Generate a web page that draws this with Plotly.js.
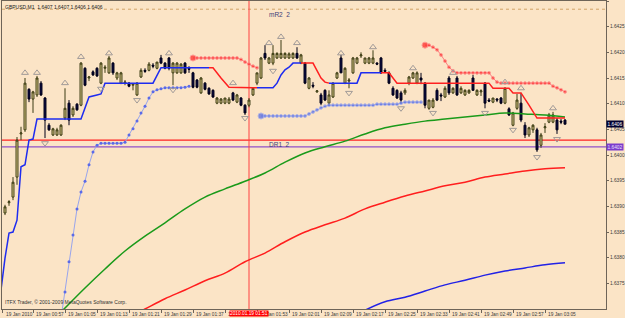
<!DOCTYPE html>
<html>
<head>
<meta charset="utf-8">
<script src="https://cdn.plot.ly/plotly-3.0.1.min.js"></script>
<style>html,body{margin:0;padding:0;background:#FBE4C6;}#chart{width:625px;height:318px;}</style>
</head>
<body>
<div id="chart"></div>
<script>
// ---- Candles (GBPUSD, M1, 19 Jan 2010, 00:50 .. 03:10) ----
const opens = [1.63887,1.63907,1.63918,1.63957,1.64041,1.64049,1.64128,1.64109,1.64117,1.64140,
1.64111,1.64058,1.64039,1.64039,1.64039,1.64072,1.64101,1.64078,1.64099,1.64097,
1.64169,1.64150,1.64162,1.64169,1.64140,1.64169,1.64160,1.64179,1.64150,1.64140,
1.64140,1.64140,1.64136,1.64117,1.64152,1.64165,1.64165,1.64175,1.64169,1.64189,
1.64179,1.64189,1.64160,1.64160,1.64160,1.64179,1.64169,1.64160,1.64146,1.64121,
1.64140,1.64130,1.64126,1.64101,1.64101,1.64101,1.64101,1.64121,1.64103,1.64111,
1.64097,1.64097,1.64117,1.64140,1.64150,1.64198,1.64179,1.64179,1.64189,1.64189,
1.64189,1.64189,1.64189,1.64198,1.64179,1.64179,1.64130,1.64136,1.64123,1.64117,
1.64126,1.64101,1.64113,1.64150,1.64189,1.64140,1.64144,1.64160,1.64179,1.64193,
1.64179,1.64179,1.64179,1.64179,1.64189,1.64165,1.64160,1.64130,1.64126,1.64121,
1.64121,1.64140,1.64150,1.64140,1.64150,1.64140,1.64091,1.64093,1.64126,1.64117,
1.64113,1.64150,1.64121,1.64150,1.64121,1.64117,1.64121,1.64150,1.64117,1.64123,
1.64140,1.64107,1.64103,1.64109,1.64111,1.64101,1.64090,1.64058,1.64091,1.64101,
1.64058,1.64039,1.64049,1.64049,1.64019,1.64053,1.64064,1.64064,1.64068,1.64066,
1.64068];
const highs = [1.63903,1.63912,1.63957,1.64035,1.64055,1.64150,1.64130,1.64125,1.64154,1.64144,
1.64113,1.64062,1.64053,1.64053,1.64060,1.64130,1.64107,1.64095,1.64101,1.64181,
1.64171,1.64154,1.64165,1.64171,1.64181,1.64175,1.64193,1.64181,1.64162,1.64162,
1.64146,1.64142,1.64140,1.64142,1.64169,1.64169,1.64181,1.64179,1.64181,1.64195,
1.64181,1.64191,1.64181,1.64181,1.64179,1.64181,1.64173,1.64162,1.64148,1.64152,
1.64142,1.64132,1.64128,1.64113,1.64111,1.64111,1.64113,1.64123,1.64119,1.64113,
1.64099,1.64111,1.64130,1.64160,1.64191,1.64214,1.64191,1.64214,1.64200,1.64224,
1.64200,1.64200,1.64200,1.64210,1.64197,1.64181,1.64152,1.64142,1.64126,1.64121,
1.64128,1.64126,1.64142,1.64162,1.64195,1.64171,1.64150,1.64191,1.64191,1.64200,
1.64189,1.64191,1.64204,1.64181,1.64191,1.64169,1.64163,1.64134,1.64128,1.64125,
1.64130,1.64154,1.64162,1.64163,1.64160,1.64142,1.64107,1.64111,1.64130,1.64121,
1.64134,1.64154,1.64132,1.64154,1.64134,1.64128,1.64128,1.64156,1.64128,1.64128,
1.64142,1.64111,1.64111,1.64111,1.64113,1.64132,1.64093,1.64084,1.64119,1.64121,
1.64064,1.64055,1.64060,1.64053,1.64043,1.64062,1.64082,1.64084,1.64072,1.64070,
1.64070];
const lows = [1.63883,1.63901,1.63912,1.63942,1.64029,1.64045,1.64103,1.64082,1.64113,1.64115,
1.64033,1.64047,1.64037,1.64037,1.64037,1.64068,1.64058,1.64074,1.64086,1.64095,
1.64134,1.64144,1.64154,1.64152,1.64138,1.64160,1.64158,1.64156,1.64146,1.64138,
1.64136,1.64132,1.64126,1.64115,1.64150,1.64160,1.64163,1.64169,1.64167,1.64177,
1.64167,1.64165,1.64136,1.64158,1.64158,1.64158,1.64160,1.64130,1.64130,1.64119,
1.64126,1.64117,1.64111,1.64099,1.64099,1.64099,1.64099,1.64105,1.64101,1.64095,
1.64078,1.64093,1.64115,1.64136,1.64148,1.64185,1.64177,1.64175,1.64187,1.64187,
1.64187,1.64187,1.64187,1.64187,1.64177,1.64138,1.64128,1.64130,1.64121,1.64097,
1.64105,1.64097,1.64111,1.64148,1.64160,1.64138,1.64130,1.64158,1.64177,1.64189,
1.64177,1.64177,1.64177,1.64175,1.64158,1.64160,1.64138,1.64115,1.64109,1.64101,
1.64117,1.64136,1.64148,1.64138,1.64138,1.64091,1.64088,1.64091,1.64105,1.64105,
1.64111,1.64117,1.64119,1.64115,1.64119,1.64115,1.64119,1.64125,1.64115,1.64115,
1.64091,1.64103,1.64101,1.64103,1.64099,1.64099,1.64076,1.64056,1.64088,1.64064,
1.64033,1.64035,1.64043,1.64006,1.64014,1.64043,1.64062,1.64062,1.64041,1.64060,
1.64060];
const closes = [1.63899,1.63909,1.63947,1.64029,1.64043,1.64140,1.64109,1.64123,1.64150,1.64117,
1.64068,1.64049,1.64051,1.64049,1.64058,1.64091,1.64068,1.64091,1.64088,1.64179,
1.64136,1.64152,1.64156,1.64154,1.64179,1.64171,1.64189,1.64160,1.64160,1.64160,
1.64142,1.64134,1.64138,1.64140,1.64165,1.64163,1.64177,1.64173,1.64181,1.64179,
1.64169,1.64169,1.64179,1.64179,1.64177,1.64160,1.64167,1.64132,1.64132,1.64150,
1.64128,1.64119,1.64113,1.64111,1.64109,1.64111,1.64109,1.64107,1.64117,1.64097,
1.64082,1.64107,1.64130,1.64160,1.64189,1.64189,1.64189,1.64198,1.64198,1.64198,
1.64198,1.64197,1.64198,1.64189,1.64195,1.64140,1.64150,1.64134,1.64125,1.64101,
1.64107,1.64117,1.64140,1.64160,1.64160,1.64169,1.64146,1.64189,1.64189,1.64195,
1.64189,1.64189,1.64189,1.64177,1.64160,1.64163,1.64140,1.64117,1.64111,1.64107,
1.64126,1.64152,1.64160,1.64160,1.64146,1.64097,1.64107,1.64107,1.64107,1.64115,
1.64130,1.64121,1.64130,1.64117,1.64130,1.64126,1.64126,1.64126,1.64126,1.64125,
1.64101,1.64105,1.64111,1.64107,1.64101,1.64130,1.64078,1.64082,1.64107,1.64068,
1.64039,1.64053,1.64058,1.64010,1.64039,1.64055,1.64078,1.64078,1.64049,1.64064,
1.64060];

// ---- Moving averages (sampled every 5 bars) ----
const maGreenK = [14,20,25,30,35,40,45,50,55,60,65,70,75,80,85,90,95,100,105,110,115,120,125,130,135,140];
const maGreen  = [1.63694,1.63741,1.63778,1.63813,1.63842,1.63868,1.63895,1.63918,1.63934,1.63949,1.63965,1.63986,1.64004,1.64016,1.64027,1.64041,1.64053,1.64060,1.64066,1.64070,1.64074,1.64078,1.64082,1.64080,1.64078,1.64074];
const maRedK = [33,35,40,45,50,55,60,65,70,75,80,85,90,95,100,105,110,115,120,125,130,135,140];
const maRed  = [1.63692,1.63700,1.63720,1.63737,1.63755,1.63770,1.63792,1.63809,1.63831,1.63850,1.63864,1.63877,1.63895,1.63908,1.63920,1.63930,1.63940,1.63947,1.63957,1.63963,1.63969,1.63973,1.63975];
const maBlueK = [89,95,100,105,110,115,120,125,130,135,140];
const maBlue  = [1.63694,1.63714,1.63723,1.63735,1.63747,1.63756,1.63766,1.63774,1.63780,1.63786,1.63790];

// ---- Trailing step line (blue = up, red = down) ----
const stepUpK = [-1,0,1,2,3,4,5,6,7,8,19,21,23,24,25,37,39,51,null,63,67,68,69,70,71,72,74,null,81,88,89,94];
const stepUpP = [1.63737,1.63799,1.63848,1.63850,1.63873,1.63977,1.63981,1.64029,1.64031,1.64070,1.64070,1.64113,1.64117,1.64119,1.64140,1.64140,1.64170,1.64170,null,
1.64131,1.64131,1.64140,1.64156,1.64166,1.64171,1.64179,1.64179,null,1.64140,1.64140,1.64160,1.64160];
const stepDnK = [51,52,54,56,62,63,null,74,77,79,80,81,null,94,96,98,121,122,126,127,129,131,133,140];
const stepDnP = [1.64170,1.64170,1.64150,1.64132,1.64131,1.64131,null,1.64179,1.64179,1.64150,1.64142,1.64140,null,
1.64160,1.64160,1.64140,1.64140,1.64130,1.64130,1.64121,1.64121,1.64097,1.64072,1.64072];

// ---- Dotted stop series ----
const dotBlue1K = [14,15,16,17,18,19,20,21,22,23,24,25,26,27,28,29,30,31,32,33,34,35,36,37,38,39,40,41,42,43,44,45,46];
const dotBlue1P = [1.63682,1.63733,1.63792,1.63844,1.63895,1.63928,1.63949,1.63981,1.64006,1.64019,1.64023,1.64023,1.64023,1.64023,1.64023,1.64023,1.64025,1.64039,1.64051,1.64066,1.64082,1.64095,1.64111,1.64123,1.64127,1.64129,1.64131,1.64131,1.64131,1.64131,1.64131,1.64132,1.64134];
const dotRed1K = [47,48,49,50,51,52,53,54,55,56,57,58,59,60,61,62,63];
const dotRed1P = [1.64189,1.64189,1.64189,1.64189,1.64189,1.64189,1.64189,1.64189,1.64189,1.64189,1.64189,1.64189,1.64186,1.64181,1.64177,1.64173,1.64170];
const dotBlue2K = [64,65,66,67,68,69,70,71,72,73,74,75,76,77,78,79,80,81,82,83,84,85,86,87,88,89,90,91,92,93,94,95,96,97,98,99,100,101,102,103,104];
const dotBlue2P = [1.64076,1.64076,1.64076,1.64076,1.64076,1.64076,1.64076,1.64076,1.64076,1.64076,1.64076,1.64076,1.64080,1.64084,1.64088,1.64092,1.64095,
1.64097,1.64097,1.64097,1.64097,1.64097,1.64097,1.64097,1.64097,1.64097,1.64097,1.64097,1.64097,1.64099,1.64099,1.64099,1.64099,1.64099,1.64099,1.64101,1.64103,1.64103,1.64103,1.64103,1.64103];
const dotRed2K = [105,106,107,108,109,110,111,112,113,114,115,116,117,118,119,120,121,122,123,124,125,126,127,128,129,130,131,132,133,134,135,136,137,138,139,140];
const dotRed2P = [1.64214,1.64214,1.64210,1.64205,1.64195,1.64183,1.64171,1.64164,1.64160,1.64160,1.64160,1.64160,1.64160,1.64160,1.64160,1.64160,1.64160,1.64150,1.64142,
1.64140,1.64140,1.64140,1.64140,1.64140,1.64140,1.64140,1.64140,1.64140,1.64140,1.64140,1.64140,1.64140,1.64134,1.64131,1.64127,1.64123];

// ---- Fractals ----
const fracUpK = [5,8,15,19,26,41,57,66,69,73,84,92,102,112,125,129,137];
const fracUpP = [1.64160,1.64160,1.64140,1.64191,1.64198,1.64198,1.64140,1.64218,1.64230,1.64218,1.64198,1.64210,1.64169,1.64160,1.64142,1.64130,1.64091];
const fracDnK = [10,24,33,42,60,67,86,99,107,120,127,133,138];
const fracDnP = [1.64023,1.64129,1.64107,1.64127,1.64072,1.64164,1.64121,1.64091,1.64082,1.64082,1.64049,1.63996,1.64031];

// ---- Levels / labels ----
const levelDR1 = 1.64029, levelPivot = 1.64016, levelMR2 = 1.64284;
const lastPrice = 1.6406, lastPriceText = "1.6406", pivotText = "1.6402";
const cursorK = 61, cursorText = "2010.01.19 01:51";
const titleText = "GBPUSD,M1  1.6407 1.6407 1.6406 1.6406";
const copyText = "ITFX Trader, © 2001-2009 MetaQuotes Software Corp.";
const yTickVals = [1.6375,1.6380,1.6385,1.6390,1.6395,1.6400,1.6405,1.6410,1.6415,1.6420,1.6425,1.6430];
const yTickText = ["1.6375","1.6380","1.6385","1.6390","1.6395","1.6400","1.6405","1.6410","1.6415","1.6420","1.6425","1.6430"];
const xTickK = [-0.6,7,15,23,31,39,47,55,63,71,79,87,95,103,111,119,127,135];
const xTickText = ["19 Jan 2010","19 Jan 00:57","19 Jan 01:05","19 Jan 01:13","19 Jan 01:21","19 Jan 01:29","19 Jan 01:37","19 Jan 01:45","19 Jan 01:53","19 Jan 02:01","19 Jan 02:09","19 Jan 02:17","19 Jan 02:25","19 Jan 02:33","19 Jan 02:41","19 Jan 02:49","19 Jan 02:57","19 Jan 03:05"];

const FONT = "Liberation Sans, Arial, sans-serif";
const SMALL = 4.8;
const bars = opens.map((_, i) => i);
const sizes = (arr, big) => arr.map((_, i) => i === 0 && big ? 6 : 3);

const traces = [
  {type:'candlestick', x:bars, open:opens, high:highs, low:lows, close:closes,
   increasing:{line:{color:'#3c3c14', width:1}, fillcolor:'#E2D08C'},
   decreasing:{line:{color:'#000018', width:1}, fillcolor:'#0A0A48'},
   whiskerwidth:0, hoverinfo:'skip', showlegend:false},
  {type:'scatter', mode:'lines', x:maGreenK, y:maGreen, line:{color:'#1A9A1A', width:1.5, shape:'spline'}, hoverinfo:'skip'},
  {type:'scatter', mode:'lines', x:maRedK, y:maRed, line:{color:'#FF1E1E', width:1.5, shape:'spline'}, hoverinfo:'skip'},
  {type:'scatter', mode:'lines', x:maBlueK, y:maBlue, line:{color:'#2222E6', width:1.5, shape:'spline'}, hoverinfo:'skip'},
  {type:'scatter', mode:'lines', x:stepUpK, y:stepUpP, line:{color:'#1E2CF0', width:1.5}, connectgaps:false, hoverinfo:'skip'},
  {type:'scatter', mode:'lines', x:stepDnK, y:stepDnP, line:{color:'#FF2020', width:1.5}, connectgaps:false, hoverinfo:'skip'},
  {type:'scatter', mode:'lines+markers', x:dotBlue1K, y:dotBlue1P, line:{color:'#98A4EC', width:1}, marker:{color:'#5A6AE8', size:3}, hoverinfo:'skip'},
  {type:'scatter', mode:'lines+markers', x:dotRed1K, y:dotRed1P, line:{color:'#FF8080', width:1}, marker:{color:'#FF2020', size:sizes(dotRed1K,true)}, hoverinfo:'skip'},
  {type:'scatter', mode:'lines+markers', x:dotBlue2K, y:dotBlue2P, line:{color:'#98A4EC', width:1}, marker:{color:'#4E66E4', size:sizes(dotBlue2K,true)}, hoverinfo:'skip'},
  {type:'scatter', mode:'lines+markers', x:dotRed2K, y:dotRed2P, line:{color:'#FF8080', width:1}, marker:{color:'#FF2020', size:sizes(dotRed2K,true)}, hoverinfo:'skip'},
  {type:'scatter', mode:'markers', x:fracUpK, y:fracUpP, marker:{symbol:'triangle-up-open', size:6, color:'#A09A98', line:{width:1}}, hoverinfo:'skip'},
  {type:'scatter', mode:'markers', x:fracDnK, y:fracDnP, marker:{symbol:'triangle-down-open', size:6, color:'#A09A98', line:{width:1}}, hoverinfo:'skip'}
];

const annotations = xTickK.map((k, i) => ({
  x:k, y:0, xref:'x', yref:'paper', xanchor:'left', yanchor:'top', yshift:-1, xshift:1,
  text:xTickText[i], showarrow:false, font:{family:FONT, size:SMALL, color:'#3a3a3a'}
}));
annotations.push(
  {x:cursorK, y:0, xref:'x', yref:'paper', xanchor:'center', yanchor:'top', yshift:-1,
   text:cursorText, showarrow:false, bgcolor:'#FF0000', borderpad:0, font:{family:FONT, size:SMALL, color:'#FFFFFF'}},
  {x:1, y:lastPrice, xref:'paper', yref:'y', xanchor:'left', yanchor:'middle', xshift:0,
   text:lastPriceText, showarrow:false, bgcolor:'#000030', borderpad:0.5, font:{family:FONT, size:SMALL, color:'#FFFFFF'}},
  {x:1, y:levelPivot, xref:'paper', yref:'y', xanchor:'left', yanchor:'middle', xshift:0,
   text:pivotText, showarrow:false, bgcolor:'#7C3CCC', borderpad:0.5, font:{family:FONT, size:SMALL, color:'#E8E0FF'}},
  {x:0, y:1, xref:'paper', yref:'paper', xanchor:'left', yanchor:'top', xshift:1, yshift:-1,
   text:titleText, showarrow:false, font:{family:FONT, size:5, color:'#202020'}},
  {x:0, y:0, xref:'paper', yref:'paper', xanchor:'left', yanchor:'bottom', xshift:1, yshift:2,
   text:copyText, showarrow:false, font:{family:FONT, size:5, color:'#303030'}},
  {x:65.5, y:levelMR2, xref:'x', yref:'y', xanchor:'left', yanchor:'top', yshift:0,
   text:'mR2  2', showarrow:false, font:{family:FONT, size:6.5, color:'#40407A'}},
  {x:65.5, y:levelDR1, xref:'x', yref:'y', xanchor:'left', yanchor:'top', yshift:1,
   text:'DR1  2', showarrow:false, font:{family:FONT, size:6.5, color:'#40407A'}}
);

const shapes = [
  {type:'line', xref:'paper', x0:0, x1:1, yref:'y', y0:levelMR2, y1:levelMR2, line:{color:'#D2A468', width:1, dash:'dot'}, layer:'below'},
  {type:'line', xref:'paper', x0:0, x1:1, yref:'y', y0:levelDR1, y1:levelDR1, line:{color:'#FF2020', width:1.2}, layer:'below'},
  {type:'line', xref:'paper', x0:0, x1:1, yref:'y', y0:levelPivot, y1:levelPivot, line:{color:'#9050C8', width:1.2}, layer:'below'},
  {type:'line', xref:'x', x0:cursorK, x1:cursorK, yref:'paper', y0:0, y1:1, line:{color:'#FF4040', width:1}, layer:'below'}
];

const layout = {
  width:625, height:318,
  margin:{l:2, r:19, t:1, b:9, pad:0},
  paper_bgcolor:'#FBE4C6', plot_bgcolor:'#FBE4C6',
  showlegend:false,
  font:{family:FONT, size:SMALL, color:'#3a3a3a'},
  xaxis:{type:'linear', range:[-0.75, 150.25], rangeslider:{visible:false}, showgrid:false, zeroline:false,
         showline:true, mirror:true, linecolor:'#6E6458', linewidth:1,
         tickmode:'array', tickvals:xTickK, ticktext:xTickK.map(() => ''), ticks:'outside', ticklen:3, tickcolor:'#6E6458',
         showticklabels:false, fixedrange:true},
  yaxis:{range:[1.6370, 1.6430], side:'right', showgrid:false, zeroline:false,
         showline:true, mirror:true, linecolor:'#6E6458', linewidth:1,
         tickmode:'array', tickvals:yTickVals, ticktext:yTickText, ticks:'outside', ticklen:2, tickcolor:'#6E6458',
         tickfont:{family:FONT, size:SMALL, color:'#3a3a3a'}, fixedrange:true},
  annotations:annotations,
  shapes:shapes
};

Plotly.newPlot('chart', traces, layout, {displayModeBar:false, staticPlot:true});
</script>
</body>
</html>
